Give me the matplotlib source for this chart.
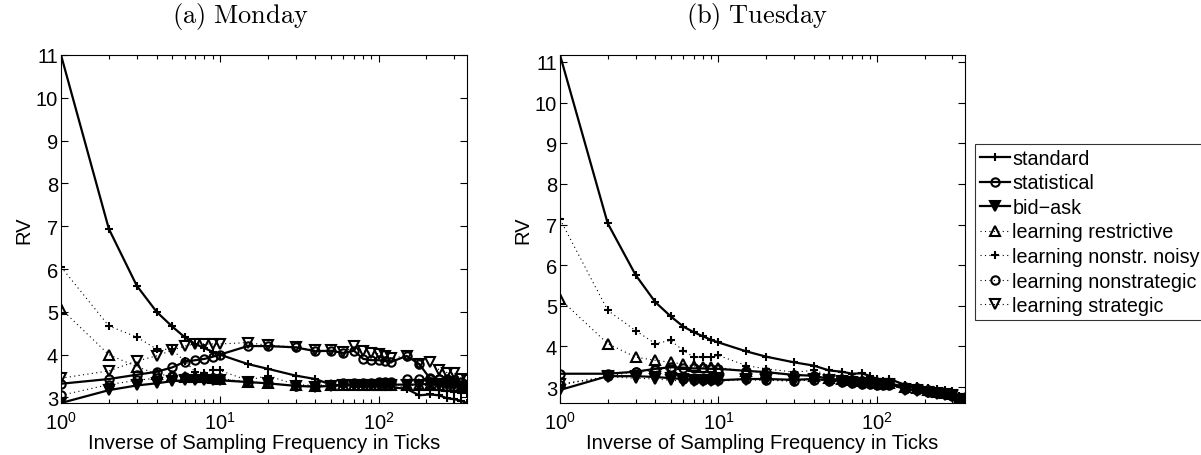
import numpy as np
import matplotlib
matplotlib.use('Agg')
import matplotlib.pyplot as plt
from matplotlib.ticker import LogLocator, FixedLocator, NullFormatter

plt.rcParams['font.family'] = ['Liberation Sans', 'DejaVu Sans']
plt.rcParams['mathtext.fontset'] = 'custom'
plt.rcParams['mathtext.rm'] = 'Liberation Sans'
plt.rcParams['mathtext.it'] = 'Liberation Sans:italic'

# sampling interval in ticks
ticks = [1, 2, 3, 4, 5, 6, 7, 8, 9, 10, 15, 20, 30, 40, 50, 60, 70, 80, 90,
         100, 110, 120, 150, 180, 210, 240, 270, 300, 330, 360]

labels = ['standard', 'statistical', 'bid\u2212ask', 'learning restrictive',
          'learning nonstr. noisy', 'learning nonstrategic', 'learning strategic']

# (a) Monday
mon_standard = [11.0, 6.94, 5.61, 5.0, 4.66, 4.41, 4.25, 4.15, 4.07, 4.0, 3.78, 3.67, 3.51, 3.43, 3.3,
                3.28, 3.28, 3.27, 3.27, 3.26, 3.25, 3.24, 3.2, 3.05, 3.07, 3.05, 2.98, 2.96, 2.92, 2.87]
mon_statistical = [3.32, 3.43, 3.53, 3.6, 3.7, 3.83, 3.87, 3.9, 3.95, 4.0, 4.2, 4.2, 4.17, 4.08, 4.09,
                   4.04, 4.09, 3.9, 3.87, 3.87, 3.85, 3.83, 3.97, 3.78, 3.45, 3.43, 3.43, 3.4, 3.35, 3.3]
mon_bidask = [2.87, 3.17, 3.28, 3.33, 3.38, 3.4, 3.41, 3.41, 3.4, 3.4, 3.36, 3.33, 3.27, 3.25, 3.27,
              3.28, 3.3, 3.3, 3.3, 3.3, 3.3, 3.3, 3.3, 3.3, 3.32, 3.3, 3.3, 3.28, 3.25, 3.25]
mon_restrictive = [5.07, 4.0, 3.72, 3.55, 3.5, 3.48, 3.47, 3.47, 3.46, 3.43, 3.37, 3.33, 3.28, 3.27, 3.28,
                   3.3, 3.3, 3.3, 3.3, 3.3, 3.3, 3.3, 3.28, 3.28, 3.28, 3.28, 3.27, 3.27, 3.25, 3.25]
mon_noisy = [6.05, 4.67, 4.41, 4.13, 4.12, 3.85, 3.6, 3.58, 3.65, 3.63, 3.4, 3.51, 3.3, 3.28, 3.3,
             3.3, 3.32, 3.3, 3.3, 3.3, 3.3, 3.28, 3.25, 3.2, 3.22, 3.18, 3.15, 3.12, 3.1, 3.1]
mon_nonstrategic = [3.05, 3.3, 3.4, 3.45, 3.5, 3.48, 3.45, 3.45, 3.45, 3.45, 3.35, 3.33, 3.27, 3.27, 3.3,
                    3.33, 3.33, 3.33, 3.33, 3.35, 3.35, 3.36, 3.43, 3.43, 3.43, 3.42, 3.38, 3.35, 3.3, 3.25]
mon_strategic = [3.45, 3.62, 3.85, 3.97, 4.1, 4.2, 4.25, 4.25, 4.25, 4.25, 4.28, 4.22, 4.18, 4.1, 4.1,
                 4.05, 4.19, 4.09, 4.04, 4.02, 3.96, 3.92, 3.97, 3.78, 3.82, 3.65, 3.58, 3.57, 3.42, 3.4]

# (b) Tuesday
tue_standard = [11.17, 7.03, 5.76, 5.09, 4.74, 4.49, 4.35, 4.25, 4.16, 4.1, 3.88, 3.75, 3.61, 3.53, 3.41,
                3.38, 3.33, 3.34, 3.28, 3.2, 3.15, 3.2, 3.06, 3.04, 2.98, 2.95, 2.93, 2.9, 2.78, 2.75]
tue_statistical = [3.33, 3.33, 3.38, 3.45, 3.49, 3.48, 3.46, 3.46, 3.45, 3.45, 3.4, 3.37, 3.3, 3.28, 3.2,
                   3.18, 3.17, 3.15, 3.12, 3.1, 3.1, 3.1, 3.0, 2.98, 2.92, 2.88, 2.85, 2.83, 2.72, 2.72]
tue_bidask = [2.93, 3.27, 3.27, 3.25, 3.22, 3.2, 3.18, 3.17, 3.17, 3.17, 3.2, 3.2, 3.18, 3.2, 3.17,
              3.15, 3.12, 3.1, 3.1, 3.08, 3.07, 3.08, 2.95, 2.92, 2.88, 2.85, 2.82, 2.8, 2.62, 2.72]
tue_restrictive = [5.17, 4.07, 3.74, 3.66, 3.61, 3.57, 3.52, 3.5, 3.5, 3.48, 3.4, 3.35, 3.3, 3.28, 3.22,
                   3.2, 3.18, 3.15, 3.13, 3.12, 3.1, 3.1, 3.0, 2.97, 2.92, 2.88, 2.85, 2.82, 2.72, 2.73]
tue_noisy = [7.13, 4.89, 4.39, 4.07, 4.15, 3.9, 3.74, 3.74, 3.74, 3.78, 3.53, 3.45, 3.37, 3.41, 3.3,
             3.27, 3.25, 3.2, 3.17, 3.14, 3.12, 3.15, 3.02, 3.0, 2.93, 2.9, 2.88, 2.85, 2.75, 2.75]
tue_nonstrategic = [3.05, 3.27, 3.38, 3.42, 3.45, 3.2, 3.17, 3.17, 3.17, 3.17, 3.2, 3.17, 3.15, 3.18, 3.15,
                    3.13, 3.1, 3.08, 3.07, 3.06, 3.05, 3.05, 2.95, 2.93, 2.88, 2.85, 2.82, 2.78, 2.68, 2.7]
tue_strategic = [3.08, 3.25, 3.22, 3.2, 3.17, 3.15, 3.15, 3.15, 3.15, 3.15, 3.18, 3.17, 3.15, 3.18, 3.15,
                 3.12, 3.1, 3.08, 3.08, 3.06, 3.05, 3.06, 2.93, 2.9, 2.87, 2.83, 2.8, 2.78, 2.61, 2.7]

# line style per series: (linestyle, marker, filled, markersize)
SOLID = dict(ls='-', lw=1.6)
DOT = dict(ls=(0, (1, 3)), lw=0.8)
styles = [
    (SOLID, '+', False, 6),
    (SOLID, 'o', False, 6),
    (SOLID, 'v', True, 7),
    (DOT, '^', False, 7),
    (DOT, '+', False, 6),
    (DOT, 'o', False, 6),
    (DOT, 'v', False, 7),
]
FS = 14.5


def draw(ax, series, title, tx):
    handles = []
    for y, (ls, mk, filled, ms), lab in zip(series, styles, labels):
        h, = ax.plot(ticks, y, color='k', linestyle=ls['ls'], lw=ls['lw'],
                     marker=mk, ms=ms, mew=1.5,
                     mfc='k' if filled else 'none', mec='k', label=lab)
        handles.append(h)
    ax.set_xscale('log')
    allv = np.concatenate([np.asarray(s, float) for s in series])
    ax.set_xlim(ticks[0], ticks[-1])
    ax.set_ylim(np.nanmin(allv), np.nanmax(allv))
    ax.yaxis.set_major_locator(FixedLocator(range(3, 12)))
    ax.xaxis.set_major_locator(LogLocator(base=10))
    ax.xaxis.set_minor_locator(LogLocator(base=10, subs=np.arange(2, 10)))
    ax.xaxis.set_minor_formatter(NullFormatter())
    ax.tick_params(which='both', direction='in', top=True, right=True,
                   labelsize=FS)
    ax.tick_params(axis='y', pad=2)
    ax.tick_params(axis='x', pad=6)
    ax.tick_params(which='major', length=5, width=0.8)
    ax.tick_params(which='minor', length=3, width=0.8)
    ax.set_xlabel('Inverse of Sampling Frequency in Ticks', fontsize=FS, labelpad=0)
    ax.set_ylabel('RV', fontsize=FS, labelpad=2)
    ax.set_title(title, fontsize=19, math_fontfamily='cm', pad=24, x=tx)
    for s in ax.spines.values():
        s.set_linewidth(0.8)
    return handles


fig = plt.figure(figsize=(12.01, 4.56), dpi=100)
W, H = 1201, 456
ax1 = fig.add_axes([61 / W, 52 / H, 406 / W, 348 / H])
ax2 = fig.add_axes([560 / W, 52 / H, 405 / W, 348 / H])

draw(ax1, [mon_standard, mon_statistical, mon_bidask, mon_restrictive,
           mon_noisy, mon_nonstrategic, mon_strategic], r'$\mathrm{(a)\ Monday}$', 0.441)
hs = draw(ax2, [tue_standard, tue_statistical, tue_bidask, tue_restrictive,
                tue_noisy, tue_nonstrategic, tue_strategic], r'$\mathrm{(b)\ Tuesday}$', 0.486)

leg = fig.legend(handles=hs, loc='upper left', bbox_to_anchor=(975 / W, 1 - 145 / H),
                 fontsize=14.2, frameon=True, fancybox=False, edgecolor='k',
                 handlelength=1.5, handletextpad=0.15, borderpad=0.25,
                 labelspacing=0.28, borderaxespad=0)
leg.get_frame().set_linewidth(0.8)

fig.savefig('out.png', dpi=100)
